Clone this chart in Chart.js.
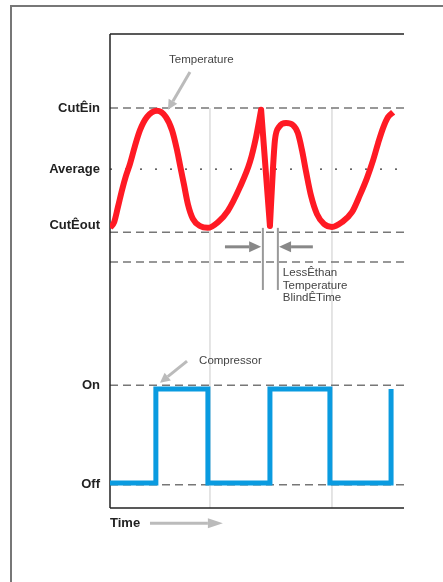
<!DOCTYPE html>
<html>
<head>
<meta charset="utf-8">
<script src="https://cdn.jsdelivr.net/npm/chart.js@4.4.1/dist/chart.umd.min.js"></script>
<style>
  html, body { margin: 0; padding: 0; background: #fff; }
  canvas { display: block; }
</style>
</head>
<body>
<canvas id="chart" width="443" height="582"></canvas>
<script>
// Both axes use arbitrary units: time 0..100, level 0..100
const tempTime = [0, 1.4, 2.7, 4.1, 5.4, 6.8, 8.5, 10.2, 12.6, 16.0, 19.0, 21.1, 22.8, 23.8, 25.2, 26.5, 28.2, 30.6, 33.3,
    36.7, 40.1, 44.2, 47.6, 49.7, 51.4,
    54.4, 55.4, 56.1, 57.5, 59.9, 62.2, 63.9, 65.3, 66.7, 68.4, 70.4, 72.8, 75.5,
    78.9, 82.3, 85.0, 87.4, 89.5, 91.2, 92.9, 94.6, 96.3];
const tempLevel = [59.1, 60.3, 63.5, 67.1, 70.0, 72.6, 76.4, 79.7, 82.5, 83.8, 82.5, 79.7, 75.5, 72.4, 68.1, 64.1, 61.0, 59.5, 59.1,
    60.3, 62.7, 67.7, 73.0, 78.3, 84.0,
    59.5, 71.3, 77.6, 80.4, 81.2, 80.8, 79.1, 75.5, 70.9, 65.8, 62.0, 59.9, 59.3,
    60.3, 62.4, 66.0, 69.6, 73.4, 77.0, 80.2, 82.5, 83.5];
// the curve is drawn straight (not smoothed) between these two times
const sharpTimes = [51.4, 54.4];

const compTime = [0, 15.6, 33.3, 54.4, 74.8, 95.6];
const compState = [0, 1, 0, 1, 0, 1];
const compOnLevel = 25.1;
const compOffLevel = 5.3;

const levelNames = ['CutÊin', 'Average', 'CutÊout', 'On', 'Off'];
const levelValues = [84.4, 71.5, 58.2, 25.9, 4.9];
const blindLowLevel = 51.9;
const gridTimes = [34.0, 75.5];
const blindTimes = [52.0, 57.1];
const blindText = ['LessÊthan', 'Temperature', 'BlindÊTime'];

const RED = '#ff1a24';
const BLUE = '#0a9be0';
const FONT = "'Liberation Sans', Arial, Helvetica, sans-serif";

function line(ctx, x1, y1, x2, y2, color, width, dash) {
    ctx.save();
    ctx.strokeStyle = color;
    ctx.lineWidth = width;
    ctx.setLineDash(dash || []);
    ctx.beginPath();
    ctx.moveTo(x1, y1);
    ctx.lineTo(x2, y2);
    ctx.stroke();
    ctx.restore();
}

function arrow(ctx, x1, y1, x2, y2, color, width, headLen, headW) {
    const a = Math.atan2(y2 - y1, x2 - x1);
    const bx = x2 - Math.cos(a) * headLen;
    const by = y2 - Math.sin(a) * headLen;
    line(ctx, x1, y1, bx, by, color, width);
    ctx.save();
    ctx.fillStyle = color;
    ctx.beginPath();
    ctx.moveTo(x2, y2);
    ctx.lineTo(bx + Math.sin(a) * headW / 2, by - Math.cos(a) * headW / 2);
    ctx.lineTo(bx - Math.sin(a) * headW / 2, by + Math.cos(a) * headW / 2);
    ctx.closePath();
    ctx.fill();
    ctx.restore();
}

const diagramPlugin = {
    id: 'diagram',
    beforeDatasetsDraw(chart) {
        const ctx = chart.ctx;
        const { left, right, top, bottom } = chart.chartArea;
        const x = t => chart.scales.x.getPixelForValue(t);
        const y = v => chart.scales.y.getPixelForValue(v);

        // outer frame (runs off the page to the right and bottom)
        ctx.save();
        ctx.strokeStyle = '#777';
        ctx.lineWidth = 2;
        ctx.strokeRect(11, 6, 700, 900);
        ctx.restore();

        // light vertical guides
        gridTimes.forEach(t => line(ctx, x(t), y(levelValues[0]), x(t), bottom, '#dcdcdc', 1.5));

        // reference levels
        levelValues.forEach((v, i) => {
            if (levelNames[i] === 'Average') {
                line(ctx, left, y(v), right - 6, y(v), '#333', 1.2, [2, 13]);
            } else {
                line(ctx, left, y(v), right, y(v), '#777', 1.5, [8, 5]);
            }
        });
        line(ctx, left, y(blindLowLevel), right, y(blindLowLevel), '#777', 1.5, [8, 5]);

        // plot frame: top, left, bottom
        line(ctx, left, top, right, top, '#222', 1.5);
        line(ctx, left, top, left, bottom, '#222', 1.5);
        line(ctx, left, bottom, right, bottom, '#222', 1.5);
    },
    afterDatasetsDraw(chart) {
        const ctx = chart.ctx;
        const { left } = chart.chartArea;
        const x = t => chart.scales.x.getPixelForValue(t);
        const y = v => chart.scales.y.getPixelForValue(v);

        // level names
        ctx.save();
        ctx.font = 'bold 13px ' + FONT;
        ctx.fillStyle = '#222';
        ctx.textAlign = 'right';
        ctx.textBaseline = 'middle';
        levelValues.forEach((v, i) => {
            const dy = levelNames[i] === 'CutÊout' ? -7 : 0;
            ctx.fillText(levelNames[i], left - 10, y(v) + dy);
        });
        ctx.textAlign = 'left';
        ctx.fillText('Time', left, y(-3.2));
        ctx.restore();
        arrow(ctx, x(13.6), y(-3.2), x(38.4), y(-3.2), '#bbb', 3, 15, 10);

        // series callouts
        ctx.save();
        ctx.font = '11.5px ' + FONT;
        ctx.fillStyle = '#444';
        ctx.textAlign = 'left';
        ctx.textBaseline = 'middle';
        ctx.fillText('Temperature', x(20.1), y(94.5));
        ctx.fillText('Compressor', x(30.3), y(31.0));
        blindText.forEach((s, i) => ctx.fillText(s, x(58.8), y(49.6) + i * 12.5));
        ctx.restore();
        arrow(ctx, x(27.2), y(92.0), x(19.7), y(84.0), '#bbb', 3, 10, 10);
        arrow(ctx, x(26.2), y(31.0), x(17.0), y(26.4), '#bbb', 3, 10, 10);

        // blind time markers
        blindTimes.forEach(t => line(ctx, x(t), y(59.1), x(t), y(46.0), '#999', 2));
        arrow(ctx, x(39.1), y(55.1), x(51.4), y(55.1), '#888', 3, 12, 11);
        arrow(ctx, x(69.0), y(55.1), x(57.5), y(55.1), '#888', 3, 12, 11);
    }
};

const tempPts = tempTime.map((t, i) => ({ x: t, y: tempLevel[i] }));
const iA = tempTime.indexOf(sharpTimes[0]);
const iB = tempTime.lastIndexOf(sharpTimes[1]);
const tempStyle = {
    borderColor: RED,
    borderWidth: 6,
    pointRadius: 0,
    fill: false,
    borderJoinStyle: 'round'
};
const compPts = compTime.map((t, i) => ({ x: t, y: compState[i] ? compOnLevel : compOffLevel }));

new Chart(document.getElementById('chart'), {
    type: 'line',
    data: {
        datasets: [
            { ...tempStyle, label: 'Temperature', data: tempPts.slice(0, iA + 1), cubicInterpolationMode: 'monotone' },
            { ...tempStyle, label: 'Temperature spike', data: tempPts.slice(iA, iB + 1), tension: 0, borderCapStyle: 'round' },
            { ...tempStyle, label: 'Temperature recovery', data: tempPts.slice(iB), cubicInterpolationMode: 'monotone' },
            {
                label: 'Compressor',
                data: compPts,
                stepped: true,
                borderColor: BLUE,
                borderWidth: 5,
                borderJoinStyle: 'miter',
                pointRadius: 0,
                fill: false
            }
        ]
    },
    options: {
        responsive: false,
        animation: false,
        events: [],
        layout: { padding: { left: 110, top: 34, right: 39, bottom: 74 } },
        scales: {
            x: { type: 'linear', min: 0, max: 100, display: false },
            y: { min: 0, max: 100, display: false }
        },
        plugins: {
            legend: { display: false },
            tooltip: { enabled: false }
        }
    },
    plugins: [diagramPlugin]
});
</script>
</body>
</html>
